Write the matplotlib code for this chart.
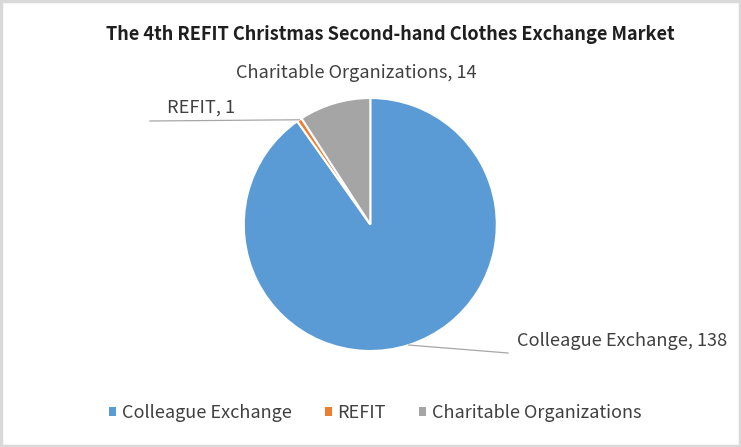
import matplotlib
matplotlib.use("Agg")
import matplotlib.pyplot as plt
from matplotlib.patches import Rectangle, Patch
from matplotlib.lines import Line2D
import numpy as np

plt.rcParams['font.family'] = ['Noto Sans CJK KR', 'DejaVu Sans']

title = "The 4th REFIT Christmas Second-hand Clothes Exchange Market"
categories = ["Colleague Exchange", "REFIT", "Charitable Organizations"]
values = [138, 1, 14]
colors = ["#5B9BD5", "#ED7D31", "#A5A5A5"]

W, H = 741, 447
fig = plt.figure(figsize=(W / 100, H / 100), dpi=100)

# pie geometry in pixels
cx, cy, r = 370.3, 224.5, 126.5
ax = fig.add_axes([(cx - r) / W, (H - cy - r) / H, 2 * r / W, 2 * r / H])
wedges, _ = ax.pie(values, colors=colors, startangle=90, counterclock=False,
                   radius=1.0, wedgeprops=dict(edgecolor="white", linewidth=1.5))
ax.set_xlim(-1, 1)
ax.set_ylim(-1, 1)
ax.set_aspect("equal")
ax.axis("off")

def px2d(px, py):
    return ((px - cx) / r, (cy - py) / r)

text_color = "#404040"
label_fs = 13.1

# label layouts (pixel positions of text baseline / leader ends)
layout = {
    0: dict(text=(517, 346.5), ha="left", line_end=(508, 353)),
    1: dict(text=(167, 113), ha="left", line_end=(150, 121)),
    2: dict(text=(356, 77.7), ha="center", line_end=None),
}
for i, w in enumerate(wedges):
    lay = layout[i]
    mid = np.deg2rad((w.theta1 + w.theta2) / 2)
    edge = (np.cos(mid), np.sin(mid))
    tx, ty = px2d(*lay["text"])
    ax.text(tx, ty, f"{categories[i]}, {values[i]}", ha=lay["ha"], va="baseline",
            fontsize=label_fs, color=text_color, clip_on=False)
    if lay["line_end"] is not None:
        ex, ey = px2d(*lay["line_end"])
        ax.add_line(Line2D([edge[0], ex], [edge[1], ey], color="#A6A6A6",
                           linewidth=0.9, clip_on=False))

fig.text(390.5 / W, 1 - 39.5 / H, title, ha="center", va="baseline", fontsize=13.1,
         fontweight="bold", color="#1F1F1F")

handles = [Patch(facecolor=c, edgecolor="none") for c in colors]
leg = fig.legend(handles, categories, loc="center", bbox_to_anchor=(375 / W, 1 - 413 / H),
                 ncol=3, frameon=False, fontsize=13, handlelength=0.39, handleheight=0.39,
                 handletextpad=0.33, columnspacing=1.83, labelcolor=text_color,
                 borderpad=0, borderaxespad=0)

# outer border
fig.patches.append(Rectangle((0.0015, 0.002), 0.997, 0.995, transform=fig.transFigure,
                             fill=False, edgecolor="#D9D9D9", linewidth=2.5))

fig.savefig("out.png", dpi=100)
